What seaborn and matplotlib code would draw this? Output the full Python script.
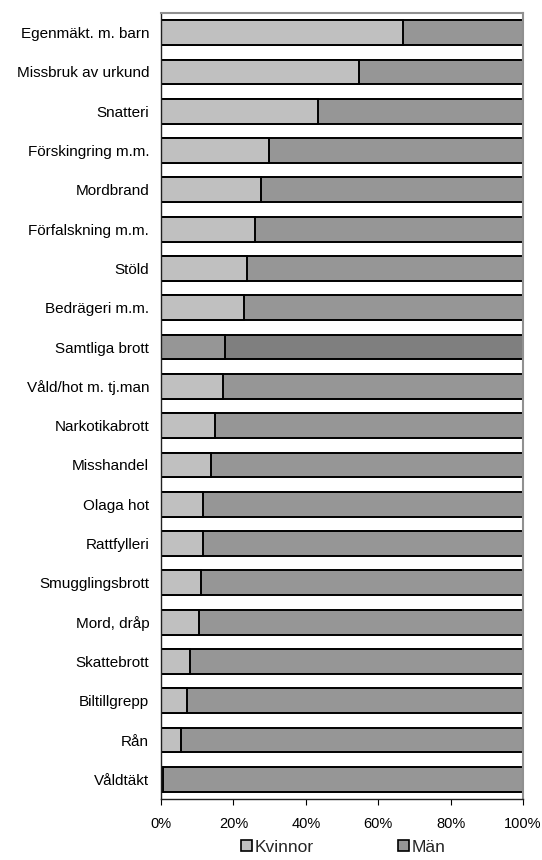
import matplotlib
matplotlib.use("Agg")
import matplotlib.pyplot as plt
import seaborn as sns
import pandas as pd
from matplotlib.patches import Patch
from matplotlib.ticker import FuncFormatter

categories = ["Egenmäkt. m. barn", "Missbruk av urkund", "Snatteri", "Förskingring m.m.",
              "Mordbrand", "Förfalskning m.m.", "Stöld", "Bedrägeri m.m.", "Samtliga brott",
              "Våld/hot m. tj.man", "Narkotikabrott", "Misshandel", "Olaga hot", "Rattfylleri",
              "Smugglingsbrott", "Mord, dråp", "Skattebrott", "Biltillgrepp", "Rån", "Våldtäkt"]
kvinnor = [66.8, 54.8, 43.5, 29.8, 27.7, 26.0, 23.8, 22.8, 17.7, 17.1, 15.0,
           13.7, 11.5, 11.5, 11.0, 10.5, 8.1, 7.1, 5.4, 0.5]
man = [100 - k for k in kvinnor]
xticks = [0, 20, 40, 60, 80, 100]

sns.set_theme(style="white")
plt.rcParams['font.family'] = ['Liberation Sans', 'DejaVu Sans']

df = pd.DataFrame({"brott": categories, "Kvinnor": kvinnor, "Män": man})
df["total"] = df["Kvinnor"] + df["Män"]

light, mid, dark = "#C0C0C0", "#969696", "#7F7F7F"
k_pal = {c: (mid if c == "Samtliga brott" else light) for c in categories}
m_pal = {c: (dark if c == "Samtliga brott" else mid) for c in categories}

fig = plt.figure(figsize=(5.42, 8.6), dpi=100)
ax = fig.add_axes([161/542, 1 - 799/860, (523 - 161)/542, (799 - 13)/860])

sns.barplot(data=df, y="brott", x="total", hue="brott", palette=m_pal, order=categories,
            orient="h", width=0.63, edgecolor="black", linewidth=1.4, legend=False, ax=ax,
            saturation=1)
sns.barplot(data=df, y="brott", x="Kvinnor", hue="brott", palette=k_pal, order=categories,
            orient="h", width=0.63, edgecolor="black", linewidth=1.4, legend=False, ax=ax,
            saturation=1)

ax.set_xlim(0, 100)
ax.set_ylim(len(categories) - 0.5, -0.5)
ax.set_xticks(xticks)
ax.xaxis.set_major_formatter(FuncFormatter(lambda v, p: f"{int(v)}%"))
ax.set_xlabel("")
ax.set_ylabel("")
ax.tick_params(axis="x", bottom=True, length=4, width=0.8, color="black",
               labelsize=10.5, pad=9)
ax.tick_params(axis="y", left=False, labelsize=11, pad=2.5)
for lab in ax.get_yticklabels():
    lab.set_color("black")
for lab in ax.get_xticklabels():
    lab.set_color("black")

for s in ["left", "bottom"]:
    ax.spines[s].set_color("#202020")
    ax.spines[s].set_linewidth(1.0)
for s in ["top", "right"]:
    ax.spines[s].set_color("#909090")
    ax.spines[s].set_linewidth(1.5)

handles = [Patch(facecolor=light, edgecolor="black", linewidth=1.2, label="Kvinnor"),
           Patch(facecolor=mid, edgecolor="black", linewidth=1.2, label="Män")]
fig.legend(handles=handles, loc="center", bbox_to_anchor=(343/542, 1 - 847/860), ncol=2,
           frameon=False, fontsize=12.5, handlelength=0.65, handleheight=0.65,
           handletextpad=0.15, columnspacing=4.85, borderpad=0)

fig.savefig("out.png", dpi=100)
